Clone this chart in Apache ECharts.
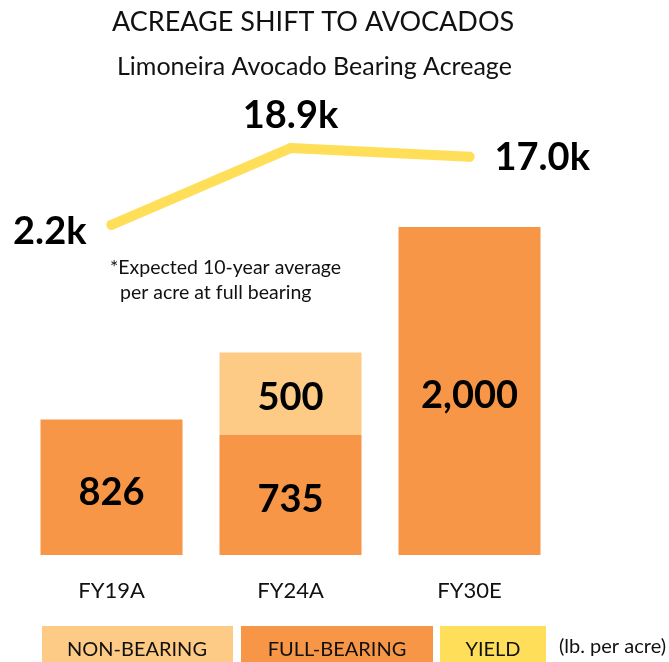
<!DOCTYPE html>
<html>
<head>
<meta charset="utf-8">
<script src="https://cdn.jsdelivr.net/npm/echarts@6/dist/echarts.min.js"></script>
<style>
html,body{margin:0;padding:0;background:#fff;}
#main{width:669px;height:662px;}
</style>
</head>
<body>
<div id="main"></div>
<script>
var categories = ['FY19A', 'FY24A', 'FY30E'];
var fullBearing = [826, 735, 2000];
var nonBearing = [null, 500, null];
var yieldK = [2.2, 18.9, 17.0];
var yieldLabels = ['2.2k', '18.9k', '17.0k'];
var legendNames = ['NON-BEARING', 'FULL-BEARING', 'YIELD'];

var FONT = 'Lato';
var cOrange = '#F79646', cLight = '#FDCB85', cYellow = '#FFDF5A';

var chart = echarts.init(document.getElementById('main'));
var labelCfg = [
  {position: 'left', offset: [0, 7], distance: 20},
  {position: 'top', offset: [0, 10], distance: 18},
  {position: 'right', offset: [0, 1], distance: 20}
];

chart.setOption({
  animation: false,
  textStyle: {fontFamily: FONT},
  title: [
    {text: 'ACREAGE SHIFT TO AVOCADOS', left: 107, top: 4,
     textStyle: {fontFamily: FONT, fontWeight: 'normal', fontSize: 27, color: '#111'}},
    {text: 'Limoneira Avocado Bearing Acreage', left: 112, top: 49,
     textStyle: {fontFamily: FONT, fontWeight: 'normal', fontSize: 25, color: '#111'}}
  ],
  grid: [
    {left: 22, right: 110, top: 227, bottom: 107},
    {left: 22, right: 110, top: 143, bottom: 427}
  ],
  xAxis: [
    {type: 'category', data: categories, gridIndex: 0,
     axisLine: {show: false}, axisTick: {show: false},
     axisLabel: {margin: 25, fontSize: 22, color: '#111', fontFamily: FONT}},
    {type: 'category', data: categories, gridIndex: 1, show: false}
  ],
  yAxis: [
    {type: 'value', gridIndex: 0, min: 0, max: 2000, show: false, splitLine: {show: false}},
    {type: 'value', gridIndex: 1, min: 0, max: 20, show: false, splitLine: {show: false}}
  ],
  series: [
    {name: 'FULL-BEARING', type: 'bar', stack: 'a', xAxisIndex: 0, yAxisIndex: 0,
     data: fullBearing, barWidth: 142, itemStyle: {color: cOrange},
     label: {show: true, position: 'inside', offset: [0, 5], fontSize: 38, fontWeight: 'bold', color: '#000',
       fontFamily: FONT,
       formatter: function (p) { return p.value.toLocaleString('en-US'); }}},
    {name: 'NON-BEARING', type: 'bar', stack: 'a', xAxisIndex: 0, yAxisIndex: 0,
     data: nonBearing, barWidth: 142, itemStyle: {color: cLight},
     label: {show: true, position: 'inside', offset: [0, 4], fontSize: 38, fontWeight: 'bold', color: '#000',
       fontFamily: FONT,
       formatter: function (p) { return p.value == null ? '' : p.value.toLocaleString('en-US'); }}},
    {name: 'YIELD', type: 'line', xAxisIndex: 1, yAxisIndex: 1,
     data: yieldK.map(function (v, i) {
       return {value: v, label: {show: true, position: labelCfg[i].position,
         offset: labelCfg[i].offset, distance: labelCfg[i].distance}};
     }),
     symbol: 'circle', symbolSize: 10, showSymbol: true,
     itemStyle: {color: cYellow},
     lineStyle: {color: cYellow, width: 10, cap: 'round'},
     label: {show: true, fontSize: 38, fontWeight: 'bold', color: '#000', fontFamily: FONT,
       formatter: function (p) { return yieldLabels[p.dataIndex]; }}}
  ],
  graphic: [
    {type: 'text', left: 110, top: 255,
     style: {text: '*Expected 10-year average\n  per acre at full bearing', fontSize: 19.5, lineHeight: 25,
       fill: '#111', fontFamily: FONT}},
    {type: 'rect', shape: {x: 42, y: 626, width: 191, height: 40}, style: {fill: cLight}},
    {type: 'text', x: 137, y: 650, style: {text: legendNames[0], fontSize: 20, fill: '#111', fontFamily: FONT, align: 'center', verticalAlign: 'middle'}},
    {type: 'rect', shape: {x: 241, y: 626, width: 192, height: 40}, style: {fill: cOrange}},
    {type: 'text', x: 337, y: 650, style: {text: legendNames[1], fontSize: 20, fill: '#111', fontFamily: FONT, align: 'center', verticalAlign: 'middle'}},
    {type: 'rect', shape: {x: 440, y: 626, width: 106, height: 40}, style: {fill: cYellow}},
    {type: 'text', x: 493, y: 650, style: {text: legendNames[2], fontSize: 20, fill: '#111', fontFamily: FONT, align: 'center', verticalAlign: 'middle'}},
    {type: 'text', x: 559, y: 647, style: {text: '(lb. per acre)', fontSize: 20, fill: '#111', fontFamily: FONT, verticalAlign: 'middle'}}
  ]
});
</script>
</body>
</html>
